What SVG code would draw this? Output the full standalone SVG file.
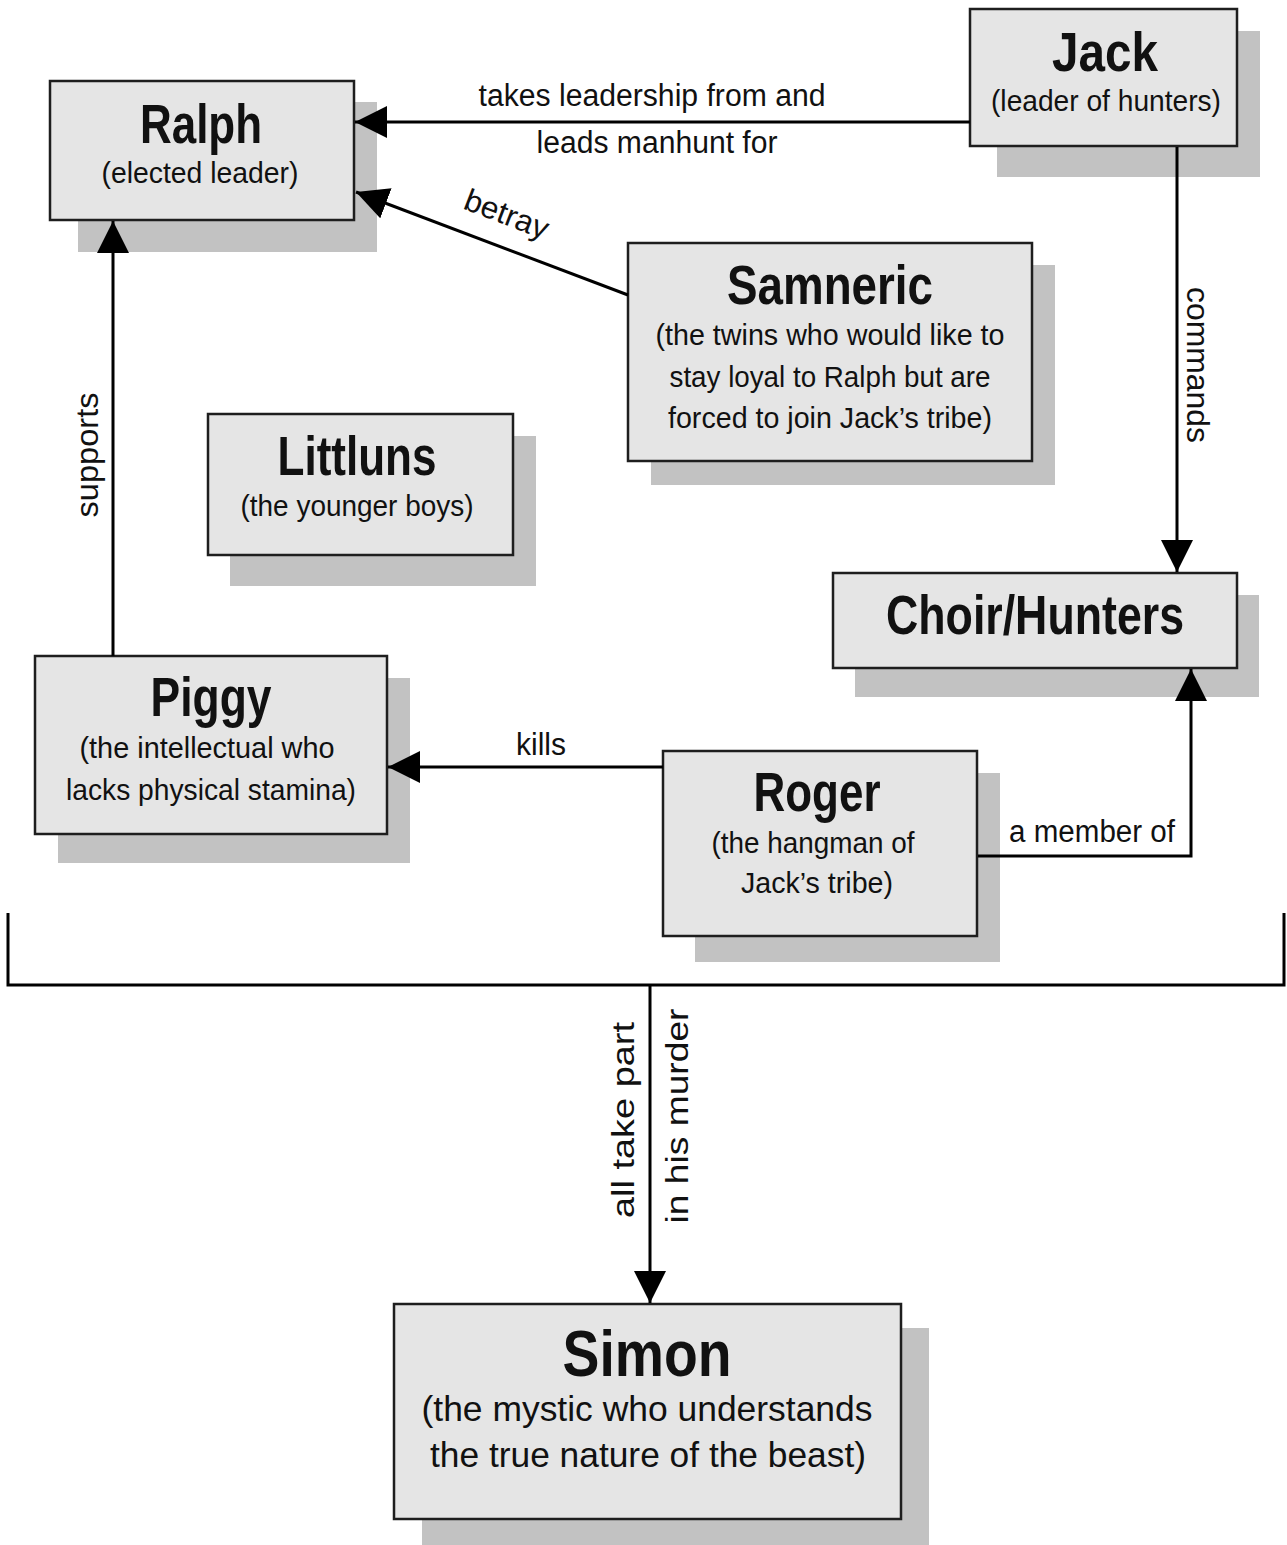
<svg xmlns="http://www.w3.org/2000/svg" width="1287" height="1545" viewBox="0 0 1287 1545">
<style>
.shadow{fill:#c2c2c2}
.box{fill:#e5e5e5;stroke:#1e1e1e;stroke-width:2.5}
.t{font-family:"Liberation Sans Narrow","Liberation Sans",Arial,sans-serif;font-weight:700;fill:#111;text-anchor:middle}
.s{font-family:"Liberation Sans Narrow","Liberation Sans",Arial,sans-serif;fill:#111;text-anchor:middle}
.lbl{font-family:"Liberation Sans Narrow","Liberation Sans",Arial,sans-serif;fill:#111;font-size:31px;text-anchor:middle}
.ln{fill:none;stroke:#000;stroke-width:3}
</style>
<defs>
<marker id="arr" viewBox="0 0 32 32" refX="32" refY="16" markerWidth="32" markerHeight="32" markerUnits="userSpaceOnUse" orient="auto">
<path d="M0,0 L32,16 L0,32 Z" fill="#000"/>
</marker>
</defs>
<rect width="1287" height="1545" fill="#fff"/>

<g id="ralph">
<rect class="shadow" x="78" y="102" width="299" height="150"/>
<rect class="box" x="50" y="81" width="304" height="139"/>
<text class="t" x="201" y="143" font-size="55" textLength="122" lengthAdjust="spacingAndGlyphs">Ralph</text>
<text class="s" x="200" y="183" font-size="30" textLength="197" lengthAdjust="spacingAndGlyphs">(elected leader)</text>
</g>

<g id="jack">
<rect class="shadow" x="997" y="31" width="263" height="146"/>
<rect class="box" x="970" y="9" width="267" height="137"/>
<text class="t" x="1105" y="71" font-size="56" textLength="106" lengthAdjust="spacingAndGlyphs">Jack</text>
<text class="s" x="1106" y="111" font-size="30" textLength="230" lengthAdjust="spacingAndGlyphs">(leader of hunters)</text>
</g>

<g id="samneric">
<rect class="shadow" x="651" y="265" width="404" height="220"/>
<rect class="box" x="628" y="243" width="404" height="218"/>
<text class="t" x="830" y="304" font-size="55" textLength="206" lengthAdjust="spacingAndGlyphs">Samneric</text>
<text class="s" x="830" y="345" font-size="30" textLength="349" lengthAdjust="spacingAndGlyphs">(the twins who would like to</text>
<text class="s" x="830" y="387" font-size="30" textLength="321" lengthAdjust="spacingAndGlyphs">stay loyal to Ralph but are</text>
<text class="s" x="830" y="428" font-size="30" textLength="324" lengthAdjust="spacingAndGlyphs">forced to join Jack’s tribe)</text>
</g>

<g id="littluns">
<rect class="shadow" x="230" y="436" width="306" height="150"/>
<rect class="box" x="208" y="414" width="305" height="141"/>
<text class="t" x="357" y="475" font-size="55" textLength="159" lengthAdjust="spacingAndGlyphs">Littluns</text>
<text class="s" x="357" y="516" font-size="30" textLength="233" lengthAdjust="spacingAndGlyphs">(the younger boys)</text>
</g>

<g id="choir">
<rect class="shadow" x="855" y="595" width="404" height="102"/>
<rect class="box" x="833" y="573" width="404" height="95"/>
<text class="t" x="1035" y="634" font-size="55" textLength="298" lengthAdjust="spacingAndGlyphs">Choir/Hunters</text>
</g>

<g id="piggy">
<rect class="shadow" x="58" y="678" width="352" height="185"/>
<rect class="box" x="35" y="656" width="352" height="178"/>
<text class="t" x="211" y="716" font-size="55" textLength="121" lengthAdjust="spacingAndGlyphs">Piggy</text>
<text class="s" x="207" y="758" font-size="30" textLength="255" lengthAdjust="spacingAndGlyphs">(the intellectual who</text>
<text class="s" x="211" y="800" font-size="30" textLength="290" lengthAdjust="spacingAndGlyphs">lacks physical stamina)</text>
</g>

<g id="roger">
<rect class="shadow" x="695" y="773" width="305" height="189"/>
<rect class="box" x="663" y="751" width="314" height="185"/>
<text class="t" x="817" y="811" font-size="55" textLength="127" lengthAdjust="spacingAndGlyphs">Roger</text>
<text class="s" x="813" y="853" font-size="30" textLength="203" lengthAdjust="spacingAndGlyphs">(the hangman of</text>
<text class="s" x="817" y="893" font-size="30" textLength="152" lengthAdjust="spacingAndGlyphs">Jack’s tribe)</text>
</g>

<g id="simon">
<rect class="shadow" x="422" y="1328" width="507" height="217"/>
<rect class="box" x="394" y="1304" width="507" height="215"/>
<text class="t" x="647" y="1376" font-size="64" textLength="169" lengthAdjust="spacingAndGlyphs">Simon</text>
<text class="s" x="647" y="1421" font-size="35" textLength="451" lengthAdjust="spacingAndGlyphs">(the mystic who understands</text>
<text class="s" x="648" y="1467" font-size="35" textLength="436" lengthAdjust="spacingAndGlyphs">the true nature of the beast)</text>
</g>

<g id="connectors">
<line class="ln" x1="970" y1="122" x2="355" y2="122" marker-end="url(#arr)"/>
<line class="ln" x1="628" y1="295" x2="356" y2="192" marker-end="url(#arr)"/>
<line class="ln" x1="113" y1="656" x2="113" y2="221" marker-end="url(#arr)"/>
<line class="ln" x1="1177" y1="147" x2="1177" y2="572" marker-end="url(#arr)"/>
<line class="ln" x1="663" y1="767" x2="388" y2="767" marker-end="url(#arr)"/>
<polyline class="ln" points="978,856 1191,856 1191,669" marker-end="url(#arr)"/>
<polyline class="ln" points="8,913 8,985 1284,985 1284,913"/>
<line class="ln" x1="650" y1="985" x2="650" y2="1303" marker-end="url(#arr)"/>
<text class="lbl" x="652" y="106" textLength="347" lengthAdjust="spacingAndGlyphs">takes leadership from and</text>
<text class="lbl" x="657" y="153" textLength="241" lengthAdjust="spacingAndGlyphs">leads manhunt for</text>
<text class="lbl" transform="translate(503,224) rotate(21)" textLength="88" lengthAdjust="spacingAndGlyphs">betray</text>
<text class="lbl" transform="translate(98,455) rotate(-90)" textLength="125" lengthAdjust="spacingAndGlyphs">supports</text>
<text class="lbl" transform="translate(1187,365) rotate(90)" textLength="156" lengthAdjust="spacingAndGlyphs">commands</text>
<text class="lbl" x="541" y="755" textLength="50" lengthAdjust="spacingAndGlyphs">kills</text>
<text class="lbl" x="1092" y="842" textLength="166" lengthAdjust="spacingAndGlyphs">a member of</text>
<text class="lbl" transform="translate(634,1120) rotate(-90)" textLength="196" lengthAdjust="spacingAndGlyphs">all take part</text>
<text class="lbl" transform="translate(688,1116) rotate(-90)" textLength="215" lengthAdjust="spacingAndGlyphs">in his murder</text>
</g>
</svg>
